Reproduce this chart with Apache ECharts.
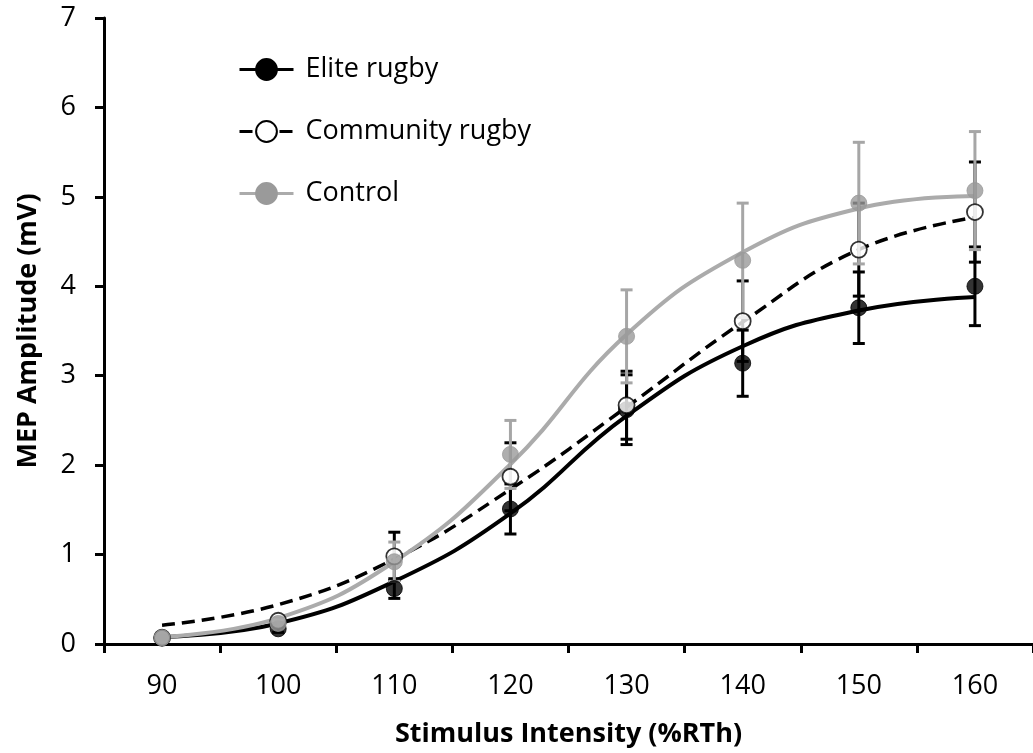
<!DOCTYPE html>
<html>
<head>
<meta charset="utf-8">
<script src="https://cdn.jsdelivr.net/npm/echarts@6/dist/echarts.min.js"></script>
<style>
html,body{margin:0;padding:0;background:#fff;}
#chart{width:1033px;height:753px;}
</style>
</head>
<body>
<div id="chart"></div>
<script>
const categories = ['90', '100', '110', '120', '130', '140', '150', '160'];
const yTicks = [0, 1, 2, 3, 4, 5, 6, 7];

const eliteMean = [0.07, 0.17, 0.62, 1.51, 2.62, 3.14, 3.76, 4.00];
const eliteSE = [0.02, 0.04, 0.11, 0.28, 0.39, 0.37, 0.40, 0.44];
const communityMean = [0.07, 0.26, 0.98, 1.87, 2.67, 3.61, 4.41, 4.83];
const communitySE = [0.02, 0.03, 0.27, 0.38, 0.38, 0.45, 0.52, 0.56];
const controlMean = [0.07, 0.23, 0.92, 2.12, 3.44, 4.29, 4.93, 5.07];
const controlSE = [0.02, 0.04, 0.22, 0.38, 0.52, 0.64, 0.68, 0.66];

const eliteFit = [0.08, 0.23, 0.70, 1.46, 2.55, 3.33, 3.73, 3.88];
const communityFit = [0.21, 0.44, 0.95, 1.73, 2.65, 3.60, 4.41, 4.77];
const controlFit = [0.08, 0.29, 0.92, 2.01, 3.46, 4.38, 4.87, 5.01];

const FONT = 'Open Sans';
const GRAY_LINE = '#ababab';
const GRAY_MARK = '#9a9a9a';

function errData(mean, se) {
  return mean.map((m, i) => [i, m - se[i], m + se[i]]);
}
function errSeries(name, mean, se, color) {
  return {
    type: 'custom',
    name: name,
    z: 3,
    silent: true,
    data: errData(mean, se),
    encode: { x: 0, y: [1, 2] },
    renderItem: function (params, api) {
      const x = api.value(0);
      const lo = api.coord([x, api.value(1)]);
      const hi = api.coord([x, api.value(2)]);
      const hw = 6;
      const st = { stroke: color, lineWidth: 3 };
      return {
        type: 'group',
        children: [
          { type: 'line', shape: { x1: lo[0], y1: lo[1], x2: hi[0], y2: hi[1] }, style: st },
          { type: 'line', shape: { x1: lo[0] - hw, y1: lo[1], x2: lo[0] + hw, y2: lo[1] }, style: st },
          { type: 'line', shape: { x1: hi[0] - hw, y1: hi[1], x2: hi[0] + hw, y2: hi[1] }, style: st }
        ]
      };
    }
  };
}
function fitSeries(name, data, lineColor, itemStyle, dashed) {
  return {
    type: 'line',
    name: name,
    data: data,
    smooth: 0.45,
    showSymbol: false,
    symbol: 'circle',
    symbolSize: 15,
    z: 2,
    silent: true,
    lineStyle: { color: lineColor, width: dashed ? 3.5 : 4, type: dashed ? [13, 7] : 'solid' },
    itemStyle: itemStyle
  };
}
function markSeries(name, data, itemStyle) {
  return {
    type: 'scatter',
    name: name,
    data: data,
    symbol: 'circle',
    symbolSize: 16,
    z: 4,
    silent: true,
    itemStyle: itemStyle
  };
}

const eliteStyle = { color: '#000', borderColor: '#000', borderWidth: 1 };
const communityStyle = { color: '#fff', borderColor: '#000', borderWidth: 1.8 };
const controlStyle = { color: GRAY_MARK, borderColor: GRAY_MARK, borderWidth: 1 };

const chart = echarts.init(document.getElementById('chart'), null, { renderer: 'canvas' });
chart.setOption({
  animation: false,
  backgroundColor: '#fff',
  grid: { left: 104, top: 18, width: 936, bottom: 105, containLabel: false },
  legend: {
    orient: 'vertical',
    left: 238,
    top: 56,
    padding: 0,
    itemWidth: 54,
    itemHeight: 26,
    itemGap: 35,
    selectedMode: false,
    lineStyle: { width: 3 },
    textStyle: { fontFamily: FONT, fontSize: 27, color: '#000', padding: [0, 0, 0, 7] },
    data: ['Elite rugby', 'Community rugby', 'Control']
  },
  xAxis: {
    type: 'category',
    data: categories,
    boundaryGap: true,
    name: 'Stimulus Intensity (%RTh)',
    nameLocation: 'middle',
    nameGap: 77,
    nameTextStyle: { fontFamily: FONT, fontSize: 27, fontWeight: 'bold', color: '#000' },
    axisLine: { show: true, lineStyle: { color: '#000', width: 3 } },
    axisTick: { show: true, inside: false, length: 9, interval: 0, lineStyle: { color: '#000', width: 3 } },
    axisLabel: { fontFamily: FONT, fontSize: 27, color: '#000', margin: 29, interval: 0 },
    splitLine: { show: false }
  },
  yAxis: {
    type: 'value',
    min: yTicks[0],
    max: yTicks[yTicks.length - 1],
    interval: 1,
    name: 'MEP Amplitude (mV)',
    nameLocation: 'middle',
    nameGap: 62,
    nameTextStyle: { fontFamily: FONT, fontSize: 27, fontWeight: 'bold', color: '#000' },
    axisLine: { show: true, lineStyle: { color: '#000', width: 3 } },
    axisTick: { show: true, inside: false, length: 9, lineStyle: { color: '#000', width: 3 } },
    axisLabel: { fontFamily: FONT, fontSize: 27, color: '#000', margin: 28 },
    splitLine: { show: false }
  },
  series: [
    fitSeries('Elite rugby', eliteFit, '#000', eliteStyle, false),
    fitSeries('Community rugby', communityFit, '#000', communityStyle, true),
    fitSeries('Control', controlFit, GRAY_LINE, controlStyle, false),
    errSeries('Elite rugby', eliteMean, eliteSE, '#000'),
    errSeries('Community rugby', communityMean, communitySE, '#000'),
    errSeries('Control', controlMean, controlSE, '#a6a6a6'),
    markSeries('Elite rugby', eliteMean, eliteStyle),
    markSeries('Community rugby', communityMean, communityStyle),
    markSeries('Control', controlMean, controlStyle)
  ]
});
</script>
</body>
</html>
